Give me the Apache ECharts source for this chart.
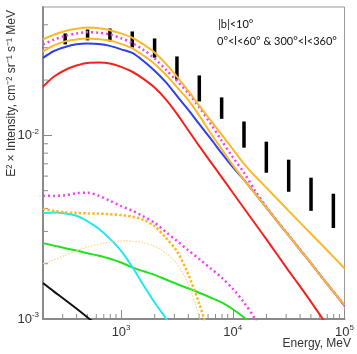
<!DOCTYPE html>
<html>
<head>
<meta charset="utf-8">
<script src="https://cdn.jsdelivr.net/npm/echarts@6/dist/echarts.min.js"></script>
<style>
  html, body { margin: 0; padding: 0; background: #fff; }
  #chart { width: 357px; height: 354px; }
</style>
</head>
<body>
<div id="chart"></div>
<script>
// energy grid (MeV), 0.1 dex steps
const energy = [200, 251, 316, 398, 501, 631, 794, 1000, 1259, 1585, 1995, 2512, 3162, 3981,
  5012, 6310, 7943, 10000, 12589, 15849, 19953, 25119, 31623, 39811, 50119, 63096, 79433, 100000]

// model curves (E^2 x intensity)
const bandUpper = [0.0333, 0.0353, 0.0370, 0.0381, 0.0387, 0.0383, 0.0374, 0.0359, 0.0340, 0.0313, 0.0283,
  0.0246, 0.0209, 0.0175, 0.0145, 0.0121, 0.0101, 0.00840, 0.00700, 0.00599, 0.00519, 0.00449, 0.00388,
  0.00336, 0.00291, 0.00252, 0.00218, 0.00189]
const bandLower = [0.0286, 0.0309, 0.0325, 0.0333, 0.0337, 0.0334, 0.0328, 0.0315, 0.0298, 0.0272, 0.0245,
  0.0214, 0.0183, 0.0156, 0.0128, 0.0103, 0.00843, 0.00688, 0.00573, 0.00481, 0.00404, 0.00339, 0.00285,
  0.00239, 0.00201, 0.00168, 0.00141, 0.00119]
const totalModel = [0.0313, 0.0332, 0.0348, 0.0359, 0.0365, 0.0362, 0.0354, 0.0338, 0.0318, 0.0292, 0.0262,
  0.0228, 0.0198, 0.0170, 0.0142, 0.0116, 0.00936, 0.00760, 0.00626, 0.00499, 0.00408, 0.00340, 0.00286,
  0.00240, 0.00201, 0.00168, 0.00141, 0.00119]
const blueModel = [0.0264, 0.0288, 0.0303, 0.0313, 0.0316, 0.0314, 0.0307, 0.0294, 0.0281, 0.0254, 0.0225,
  0.0195, 0.0164, 0.0138, 0.0115, 0.00962, 0.00800, 0.00671, 0.00573, 0.00481, 0.00404, 0.00339, 0.00285,
  0.00239, 0.00201, 0.00168, 0.00141, 0.00118]
const redModel = [0.0184, 0.0209, 0.0227, 0.0240, 0.0248, 0.0249, 0.0246, 0.0236, 0.0222, 0.0203, 0.0182,
  0.0157, 0.0131, 0.0107, 0.00873, 0.00719, 0.00592, 0.00487, 0.00401, 0.00330, 0.00272, 0.00223, 0.00183,
  0.00151, 0.00124, 0.00101, 0.00083, 0.00068]
const magentaLow = [0.00469, 0.00468, 0.00472, 0.00484, 0.00487, 0.00469, 0.00440, 0.00412, 0.00389, 0.00362,
  0.00334, 0.00298, 0.00266, 0.00237, 0.00212, 0.00189, 0.00168, 0.00146, 0.00123, 0.00100, 0.00077]
const orangeDotted = [0.00398, 0.00388, 0.00381, 0.00378, 0.00376, 0.00375, 0.00372, 0.00368, 0.00361, 0.00347,
  0.00320, 0.00277, 0.00234, 0.00176, 0.00121, 0.00077]
const paleDotted = [0.00200, 0.00210, 0.00222, 0.00235, 0.00247, 0.00255, 0.00261, 0.00266, 0.00265, 0.00260,
  0.00249, 0.00229, 0.00200, 0.00156, 0.00103, 0.00060]
const cyanModel = [0.00377, 0.00380, 0.00375, 0.00365, 0.00340, 0.00310, 0.00273, 0.00235, 0.00192, 0.00153,
  0.00123, 0.00101, 0.00082]
const greenModel = [0.00259, 0.00251, 0.00243, 0.00236, 0.00228, 0.00221, 0.00213, 0.00203, 0.00191, 0.00182,
  0.00174, 0.00164, 0.00155, 0.00147, 0.00139, 0.00131, 0.00123, 0.00113, 0.00102, 0.00090]
const blackModel = [0.00157, 0.00141, 0.00127, 0.00114, 0.00102, 0.00092]

// measured points (vertical bars)
const dataE = [316, 501, 794, 1259, 1995, 3162, 5012, 7943, 12589, 19953, 31623, 50119, 79433]
const dataLow = [0.0313, 0.0329, 0.0325, 0.0301, 0.0265, 0.0201, 0.0153, 0.0123, 0.00857, 0.00626, 0.00493, 0.00388, 0.00313]
const dataHigh = [0.0359, 0.0377, 0.0382, 0.0368, 0.0337, 0.0269, 0.0212, 0.0161, 0.0119, 0.00924, 0.00737, 0.00588, 0.00481]

// axes
const xMin = 200, xMax = 100000, yMin = 0.001, yMax = 0.05
const xMinorTicks = [300, 400, 500, 600, 700, 800, 900, 2000, 3000, 4000, 5000, 6000, 7000, 8000, 9000,
  20000, 30000, 40000, 50000, 60000, 70000, 80000, 90000]
const yMinorTicks = [0.002, 0.003, 0.004, 0.005, 0.006, 0.007, 0.008, 0.009, 0.02, 0.03, 0.04]

const font = "'Liberation Sans', Arial, sans-serif"
const axisGray = '#8a8a8a'

const pairs = (vals) => vals.map((v, i) => [energy[i], v])

const powLabel = (v) => {
  const l = Math.log10(v)
  const e = Math.round(l)
  if (Math.abs(l - e) > 1e-6) return ''
  return '{b|10}{s|' + e + '}'
}
const labelRich = {
  b: { fontSize: 13, fontFamily: font, color: '#333', lineHeight: 16 },
  s: { fontSize: 8, fontFamily: font, color: '#333', lineHeight: 8, verticalAlign: 'top' },
}

const curve = (data, color, width, type) => ({
  type: 'line',
  data: pairs(data),
  showSymbol: false,
  smooth: 0.3,
  silent: true,
  lineStyle: { color, width, type: type || 'solid' },
})

const myChart = echarts.init(document.getElementById('chart'))

const option = {
  animation: false,
  grid: { left: 43, right: 6, top: 7, bottom: 35, show: true, borderColor: '#999', borderWidth: 1 },
  xAxis: {
    type: 'log',
    logBase: 10,
    min: xMin,
    max: xMax,
    axisLine: { lineStyle: { color: axisGray, width: 2 } },
    axisTick: { inside: true, length: 9, lineStyle: { color: axisGray } },
    splitLine: { show: false },
    axisLabel: { margin: 5, formatter: powLabel, rich: labelRich, showMinLabel: false },
  },
  yAxis: {
    type: 'log',
    logBase: 10,
    min: yMin,
    max: yMax,
    axisLine: { lineStyle: { color: axisGray, width: 2 } },
    axisTick: { inside: true, length: 9, lineStyle: { color: axisGray } },
    splitLine: { show: false },
    axisLabel: { margin: 4, formatter: powLabel, rich: labelRich, showMaxLabel: false },
  },
  graphic: [
    {
      type: 'text', x: 12, y: 10, rotation: Math.PI / 2,
      style: {
        text: 'E² × Intensity, cm⁻² sr⁻¹ s⁻¹ MeV',
        font: '12px ' + font, fill: '#333', align: 'right', verticalAlign: 'middle',
      },
    },
    {
      type: 'text', x: 351, y: 344,
      style: { text: 'Energy, MeV', font: '12px ' + font, fill: '#333', align: 'right', verticalAlign: 'middle' },
    },
    {
      type: 'text', x: 218, y: 24,
      style: { text: '|b|<10°', font: '11px Lato, sans-serif', fill: '#111', align: 'left', verticalAlign: 'middle' },
    },
    {
      type: 'text', x: 217, y: 41,
      style: { text: '0°<l<60° & 300°<l<360°', font: '11px Lato, sans-serif', fill: '#111', align: 'left', verticalAlign: 'middle' },
    },
  ],
  series: [
    {
      type: 'custom',
      silent: true,
      data: xMinorTicks.map((v) => [v, yMin]),
      renderItem: (params, api) => {
        const p = api.coord([api.value(0), api.value(1)])
        return { type: 'line', shape: { x1: p[0], y1: p[1], x2: p[0], y2: p[1] - 5 }, style: { stroke: axisGray, lineWidth: 1 } }
      },
    },
    {
      type: 'custom',
      silent: true,
      data: yMinorTicks.map((v) => [xMin, v]),
      renderItem: (params, api) => {
        const p = api.coord([api.value(0), api.value(1)])
        return { type: 'line', shape: { x1: p[0], y1: p[1], x2: p[0] + 5, y2: p[1] }, style: { stroke: axisGray, lineWidth: 1 } }
      },
    },
    curve(blackModel, '#111', 2),
    curve(greenModel, '#22e022', 2),
    curve(cyanModel, '#22e8f2', 2),
    curve(paleDotted, '#ffd88c', 1.3, [1.5, 1.5]),
    curve(orangeDotted, '#fbb829', 2.5, [2.5, 2]),
    curve(magentaLow, '#f040f0', 2.5, [2, 3]),
    curve(redModel, '#f2221c', 2),
    curve(blueModel, '#2f3ff0', 2),
    curve(totalModel, '#f040f0', 2.5, [2, 3]),
    curve(bandLower, '#fbb829', 2),
    curve(bandUpper, '#fbb829', 2),
    {
      type: 'custom',
      silent: true,
      data: dataE.map((e, i) => [e, dataLow[i], dataHigh[i]]),
      encode: { x: 0, y: [1, 2] },
      renderItem: (params, api) => {
        const a = api.coord([api.value(0), api.value(1)])
        const b = api.coord([api.value(0), api.value(2)])
        return { type: 'line', shape: { x1: a[0], y1: a[1], x2: b[0], y2: b[1] }, style: { stroke: '#000', lineWidth: 3.5 } }
      },
    },
  ],
}

myChart.setOption(option)
</script>
</body>
</html>
